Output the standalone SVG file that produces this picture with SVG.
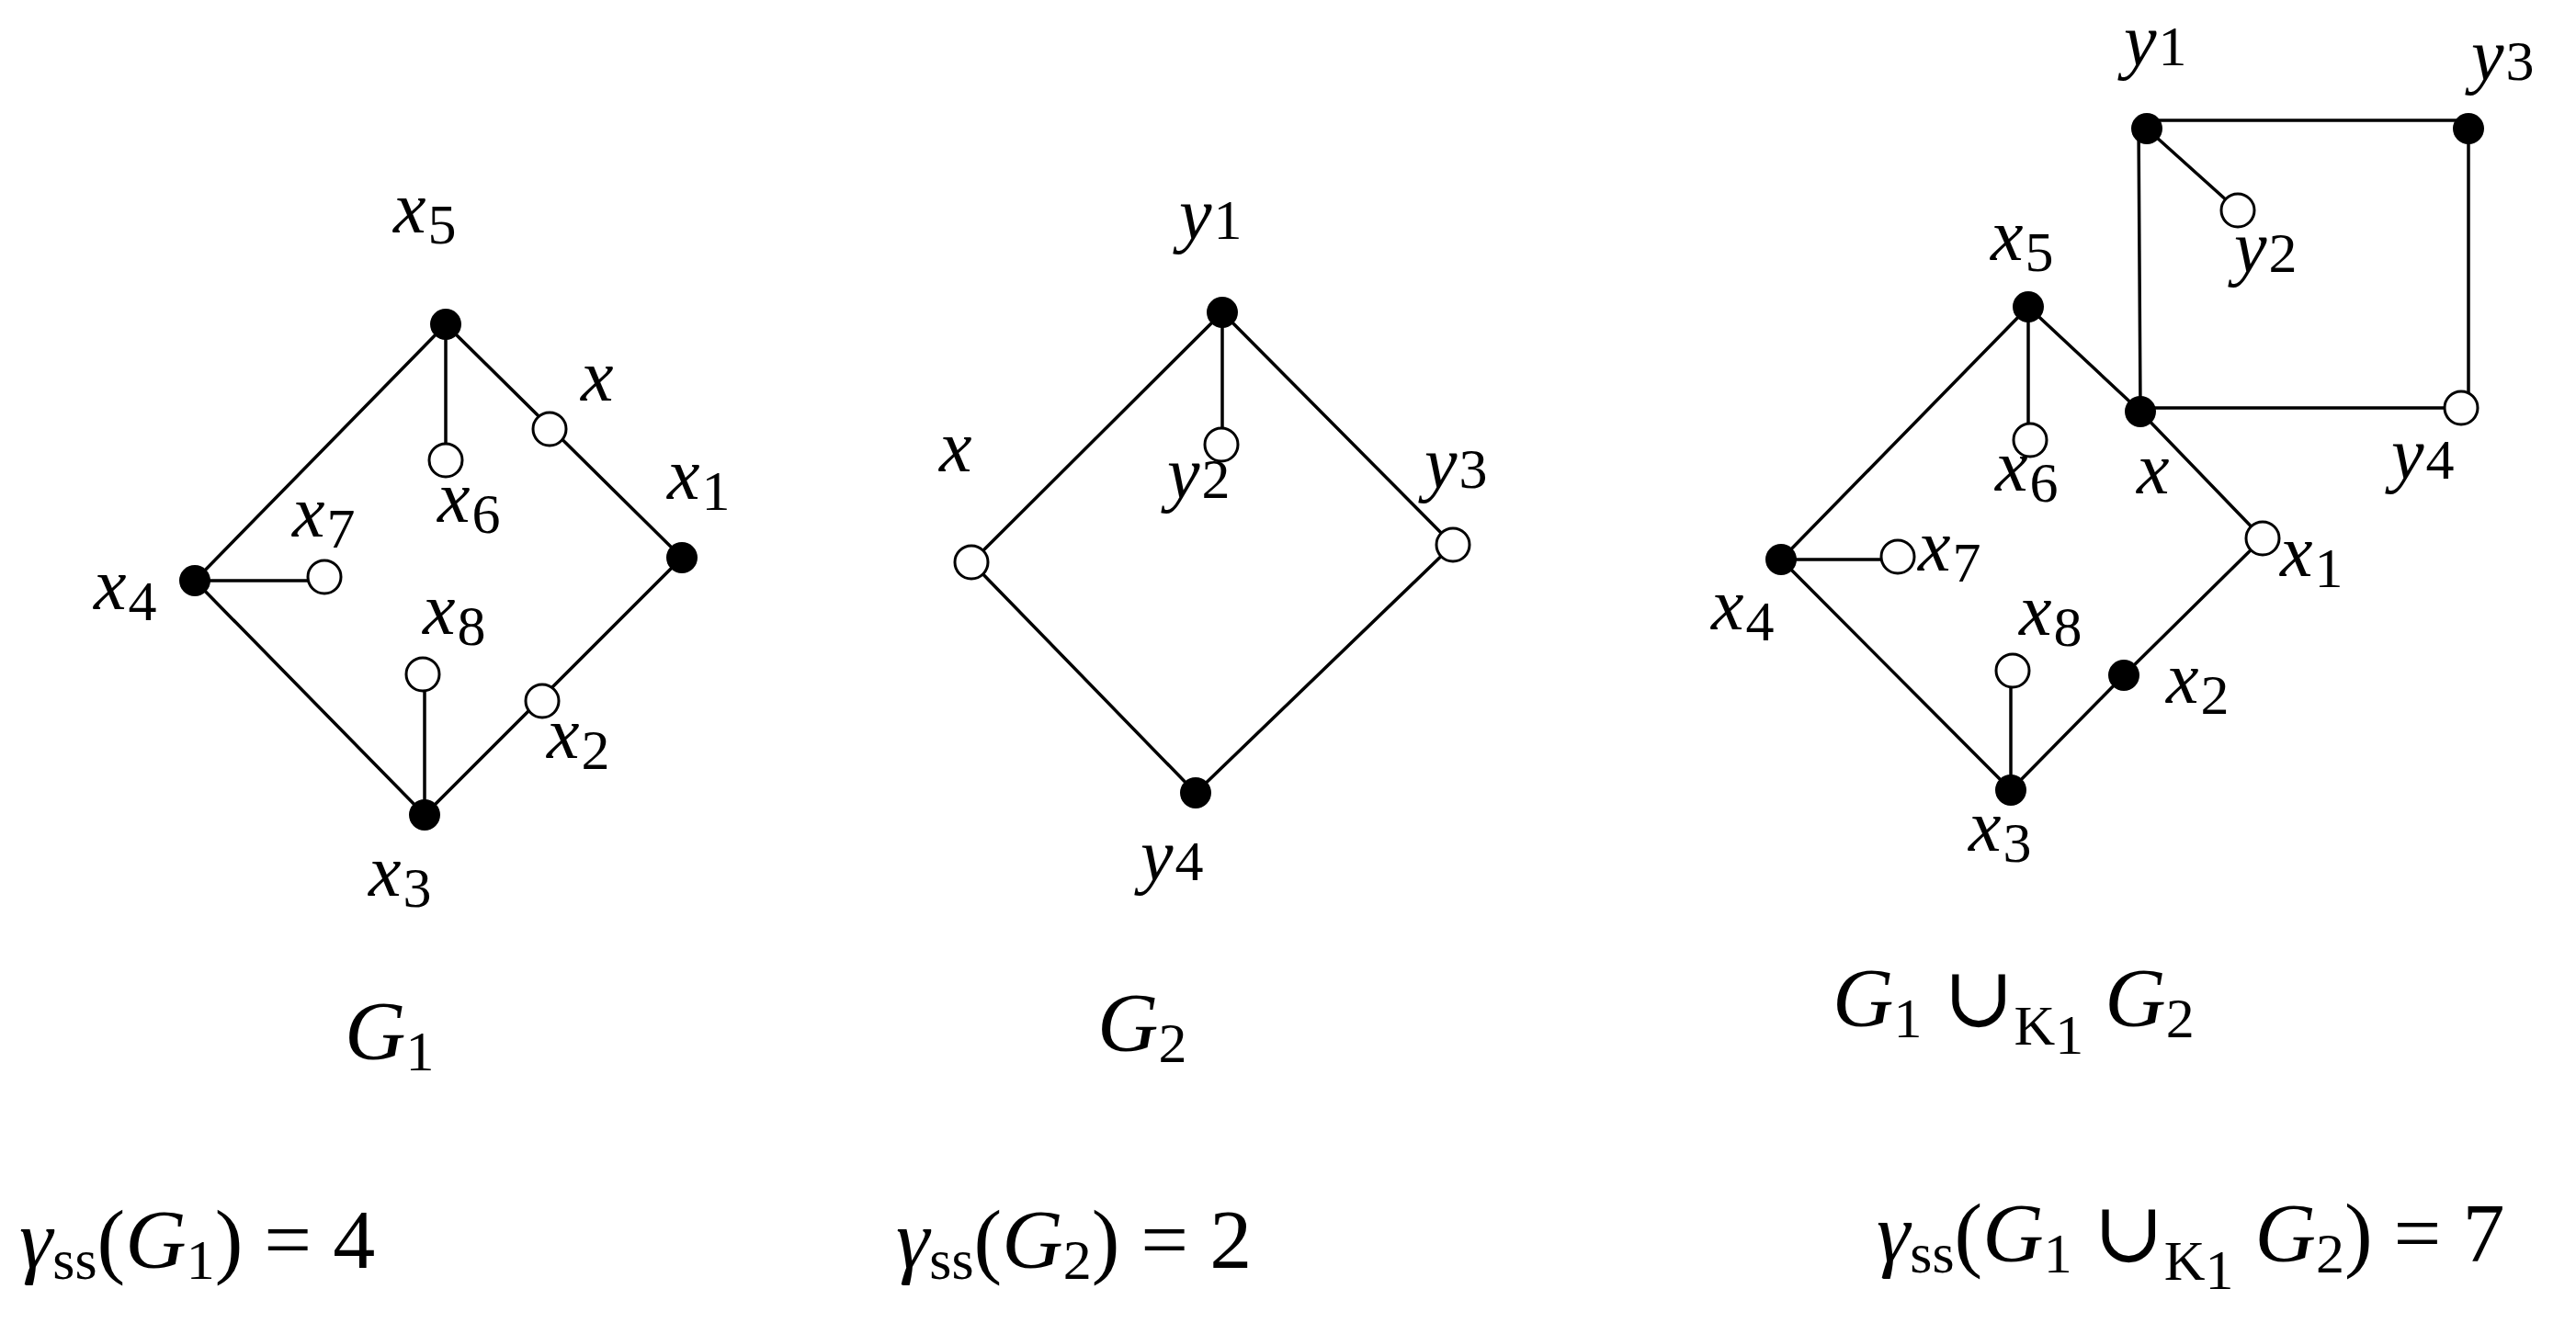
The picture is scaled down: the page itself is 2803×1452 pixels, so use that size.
<svg xmlns="http://www.w3.org/2000/svg" width="2803" height="1452" viewBox="0 0 2803 1452">
<style>
.e{stroke:#000;stroke-width:3.5;fill:none}
.f{fill:#000}
.o{fill:#fff;stroke:#000;stroke-width:3}
text{font-family:"Liberation Serif","DejaVu Serif",serif;font-size:80px;fill:#000}
.i{font-style:italic}
.s{font-size:62px;font-style:normal}
.c{font-size:92px}
</style>
<rect width="2803" height="1452" fill="#fff"/>
<g id="connectors">
<path class="e" d="M485,353 L742,607 L462,887 L212,632 Z M485,353 V501 M212,632 H353 M462,887 V734"/>
<path class="e" d="M1330,340 L1581,593 L1301,863 L1057,612 Z M1330,340 V484"/>
<path class="e" d="M2207,334 L2329,448 L2462,586 L2311,735 L2188,860 L1938,609 Z M2207,334 V479 M1938,609 H2065 M2188,860 V730"/>
<path class="e" d="M2327,131 H2686 V444 H2329 Z M2336,140 L2435,229"/>
</g>
<g id="G1">
<g id="n-x5"><circle class="f" cx="485" cy="353" r="17"/><text x="428" y="253" class="i">x<tspan class="s" dx="2" dy="12">5</tspan></text></g>
<g id="n-x"><circle class="o" cx="598" cy="467" r="18"/><text x="632" y="436" class="i">x</text></g>
<g id="n-x1"><circle class="f" cx="742" cy="607" r="17"/><text x="726" y="543" class="i">x<tspan class="s" dx="2" dy="12">1</tspan></text></g>
<g id="n-x6"><circle class="o" cx="485" cy="501" r="18"/><text x="476" y="568" class="i">x<tspan class="s" dx="2" dy="12">6</tspan></text></g>
<g id="n-x7"><circle class="o" cx="353" cy="628" r="18"/><text x="318" y="584" class="i">x<tspan class="s" dx="2" dy="12">7</tspan></text></g>
<g id="n-x4"><circle class="f" cx="212" cy="632" r="17"/><text x="102" y="663" class="i">x<tspan class="s" dx="2" dy="12">4</tspan></text></g>
<g id="n-x8"><circle class="o" cx="460" cy="734" r="18"/><text x="460" y="690" class="i">x<tspan class="s" dx="2" dy="12">8</tspan></text></g>
<g id="n-x2"><circle class="o" cx="590" cy="763" r="18"/><text x="595" y="825" class="i">x<tspan class="s" dx="2" dy="12">2</tspan></text></g>
<g id="n-x3"><circle class="f" cx="462" cy="887" r="17"/><text x="401" y="975" class="i">x<tspan class="s" dx="2" dy="12">3</tspan></text></g>
</g>
<g id="G2">
<g id="n-y1"><circle class="f" cx="1330" cy="340" r="17"/><text x="1283" y="260" class="i">y<tspan class="s" dx="2">1</tspan></text></g>
<g id="n-y2"><circle class="o" cx="1329" cy="484" r="18"/><text x="1270" y="542" class="i">y<tspan class="s" dx="2">2</tspan></text></g>
<g id="n-y3"><circle class="o" cx="1581" cy="593" r="18"/><text x="1550" y="531" class="i">y<tspan class="s" dx="2">3</tspan></text></g>
<g id="n-gx"><circle class="o" cx="1057" cy="612" r="18"/><text x="1022" y="513" class="i">x</text></g>
<g id="n-y4"><circle class="f" cx="1301" cy="863" r="17"/><text x="1241" y="958" class="i">y<tspan class="s" dx="2">4</tspan></text></g>
</g>
<g id="G3">
<g id="m-y1"><circle class="f" cx="2336" cy="140" r="17"/><text x="2311" y="71" class="i">y<tspan class="s" dx="2">1</tspan></text></g>
<g id="m-y3"><circle class="f" cx="2686" cy="140" r="17"/><text x="2689" y="87" class="i">y<tspan class="s" dx="2">3</tspan></text></g>
<g id="m-y2"><circle class="o" cx="2435" cy="229" r="18"/><text x="2431" y="296" class="i">y<tspan class="s" dx="2">2</tspan></text></g>
<g id="m-x"><circle class="f" cx="2329" cy="448" r="17"/><text x="2325" y="537" class="i">x</text></g>
<g id="m-y4"><circle class="o" cx="2678" cy="444" r="18"/><text x="2602" y="521" class="i">y<tspan class="s" dx="2">4</tspan></text></g>
<g id="m-x5"><circle class="f" cx="2207" cy="334" r="17"/><text x="2166" y="283" class="i">x<tspan class="s" dx="2" dy="12">5</tspan></text></g>
<g id="m-x6"><circle class="o" cx="2209" cy="479" r="18"/><text x="2171" y="534" class="i">x<tspan class="s" dx="2" dy="12">6</tspan></text></g>
<g id="m-x1"><circle class="o" cx="2462" cy="586" r="18"/><text x="2481" y="627" class="i">x<tspan class="s" dx="2" dy="12">1</tspan></text></g>
<g id="m-x4"><circle class="f" cx="1938" cy="609" r="17"/><text x="1862" y="685" class="i">x<tspan class="s" dx="2" dy="12">4</tspan></text></g>
<g id="m-x7"><circle class="o" cx="2065" cy="606" r="18"/><text x="2087" y="621" class="i">x<tspan class="s" dx="2" dy="12">7</tspan></text></g>
<g id="m-x8"><circle class="o" cx="2190" cy="730" r="18"/><text x="2197" y="691" class="i">x<tspan class="s" dx="2" dy="12">8</tspan></text></g>
<g id="m-x2"><circle class="f" cx="2311" cy="735" r="17"/><text x="2357" y="765" class="i">x<tspan class="s" dx="2" dy="12">2</tspan></text></g>
<g id="m-x3"><circle class="f" cx="2188" cy="860" r="17"/><text x="2142" y="926" class="i">x<tspan class="s" dx="2" dy="12">3</tspan></text></g>
</g>
<g id="captions">
<text class="c i" x="375" y="1153">G<tspan class="s" dy="12">1</tspan></text>
<text class="c i" x="1194" y="1144">G<tspan class="s" dy="12">2</tspan></text>
<text class="c" x="1994" y="1117"><tspan class="i">G</tspan><tspan class="s" dy="12">1</tspan><tspan dy="-12"> ∪</tspan><tspan class="s i" dy="20">K</tspan><tspan class="s" font-size="44" dy="10">1</tspan><tspan class="i" dy="-30"> G</tspan><tspan class="s" dy="12">2</tspan></text>
<text class="c" x="21" y="1380"><tspan class="i">γ</tspan><tspan class="s i" dy="12">ss</tspan><tspan dy="-12">(</tspan><tspan class="i">G</tspan><tspan class="s" dy="12">1</tspan><tspan dy="-12">) = 4</tspan></text>
<text class="c" x="975" y="1380"><tspan class="i">γ</tspan><tspan class="s i" dy="12">ss</tspan><tspan dy="-12">(</tspan><tspan class="i">G</tspan><tspan class="s" dy="12">2</tspan><tspan dy="-12">) = 2</tspan></text>
<text class="c" x="2042" y="1373"><tspan class="i">γ</tspan><tspan class="s i" dy="12">ss</tspan><tspan dy="-12">(</tspan><tspan class="i">G</tspan><tspan class="s" dy="12">1</tspan><tspan dy="-12"> ∪</tspan><tspan class="s i" dy="20">K</tspan><tspan class="s" font-size="44" dy="10">1</tspan><tspan class="i" dy="-30"> G</tspan><tspan class="s" dy="12">2</tspan><tspan dy="-12">) = 7</tspan></text>
</g>
</svg>
